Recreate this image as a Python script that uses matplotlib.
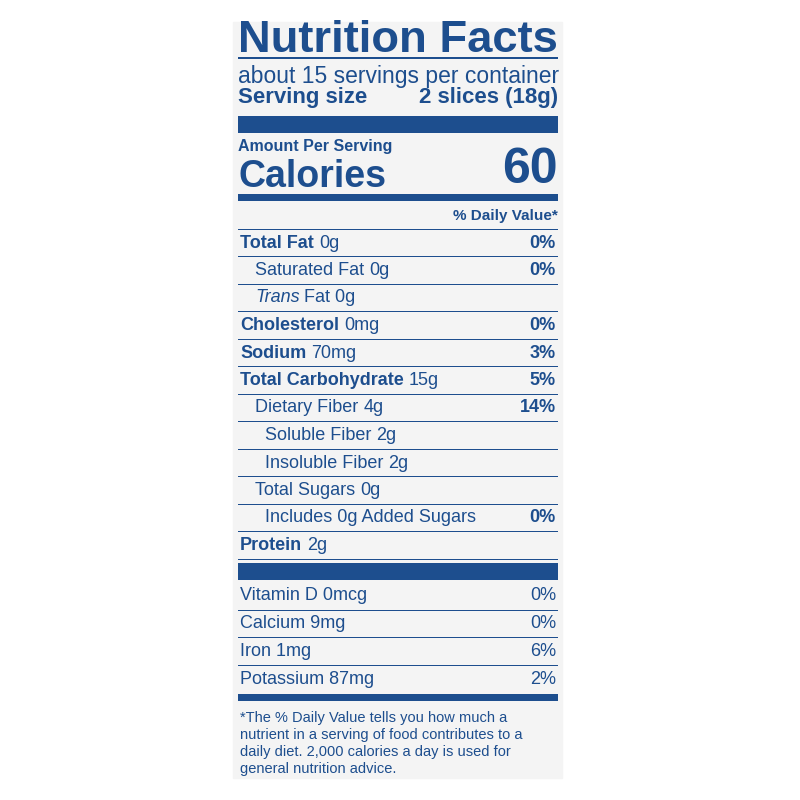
import matplotlib
matplotlib.use("Agg")
from matplotlib import pyplot as plt
from matplotlib.patches import Rectangle

BLUE = "#1d4e8e"
FONT = "Liberation Sans"

# label data
servings = "about 15 servings per container"
serving_size = "2 slices (18g)"
calories = "60"
nutrients = [  # (bold name, amount, % dv, indent level, bold pct)
    ("Total Fat", "0g", "0%", 0),
    ("Saturated Fat", "0g", "0%", 1),
    ("Trans", "Fat 0g", "", 1),
    ("Cholesterol", "0mg", "0%", 0),
    ("Sodium", "70mg", "3%", 0),
    ("Total Carbohydrate", "15g", "5%", 0),
    ("Dietary Fiber", "4g", "14%", 1),
    ("Soluble Fiber", "2g", "", 2),
    ("Insoluble Fiber", "2g", "", 2),
    ("Total Sugars", "0g", "", 1),
    ("Includes 0g Added Sugars", "", "0%", 2),
    ("Protein", "2g", "", 0),
]
vitamins = ["Vitamin D 0mcg", "Calcium 9mg", "Iron 1mg", "Potassium 87mg"]
vitamin_dv = ["0%", "0%", "6%", "2%"]
footnote = ["*The % Daily Value tells you how much a",
            "nutrient in a serving of food contributes to a",
            "daily diet. 2,000 calories a day is used for",
            "general nutrition advice."]

fig = plt.figure(figsize=(8, 8), dpi=100)
ax = fig.add_axes([0, 0, 1, 1])
ax.set_xlim(0, 800)
ax.set_ylim(800, 0)
ax.axis("off")
r = fig.canvas.get_renderer()

L, R = 238, 558
ax.add_patch(Rectangle((233, 22), 329, 756, color="#f4f4f4", zorder=0))


def txt(x, y, s, size, weight="normal", ha="left", style="normal"):
    return ax.text(x, y, s, fontsize=size, fontweight=weight, ha=ha, va="center",
                   color=BLUE, family=FONT, style=style)


def fit(x, y, s, width, weight="bold", ha="left"):
    t = txt(x, y, s, 20, weight, ha)
    w = t.get_window_extent(r).width
    t.set_fontsize(20 * width / w)
    return t


def right_edge(t):
    bb = t.get_window_extent(r)
    return bb.x1


def hline(y, lw, x0=L, x1=R):
    ax.add_patch(Rectangle((x0, y - lw / 2), x1 - x0, lw, color=BLUE, lw=0))


t = fit(L, 40, "Nutrition Facts", R - L)
t.set_fontweight("heavy")
hline(58, 1.2)
fit(L, 76, servings, R - L, weight="normal")
txt(L, 98, "Serving size", 16, "bold")
txt(R, 98, serving_size, 16, "bold", ha="right")
hline(124.5, 17)
txt(L, 146, "Amount Per Serving", 11.5, "bold")
txt(L, 177, "Calories", 27, "bold")
txt(R, 170, calories, 36, "bold", ha="right")
hline(197.5, 7)
txt(R, 216, "% Daily Value*", 11, "bold", ha="right")
hline(229, 1)

indents = [L + 2, L + 17, L + 27]
y = 243
for name, amt, dv, lvl in nutrients:
    x = indents[lvl]
    if name == "Trans":
        t = txt(x, y, "Trans", 13, style="italic")
        txt(right_edge(t) + 4, y, amt, 13)
    else:
        t = txt(x, y, name, 13, "bold" if lvl == 0 else "normal")
        if amt:
            txt(right_edge(t) + 5, y, amt, 13)
    if dv:
        txt(R - 2, y, dv, 13, "bold", ha="right")
    hline(y + 13.5, 1)
    y += 27.5

hline(571.5, 17)
y = 596
for i, (v, d) in enumerate(zip(vitamins, vitamin_dv)):
    txt(L + 2, y, v, 13)
    txt(R - 2, y, d, 13, ha="right")
    if i < len(vitamins) - 1:
        hline(y + 14, 1)
    y += 27.7
hline(697, 7)

y = 718
for line in footnote:
    txt(L + 2, y, line, 10.5)
    y += 17

fig.savefig("out.png", dpi=100, facecolor="white")
